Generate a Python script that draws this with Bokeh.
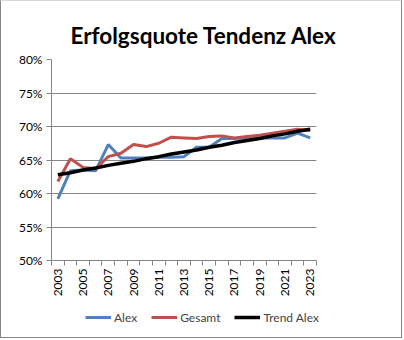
from bokeh.plotting import figure
from bokeh.models import (FixedTicker, PrintfTickFormatter, Legend, LegendItem, Range1d)
from bokeh.embed import file_html
from bokeh.resources import INLINE
import math

years = list(range(2003, 2024))
alex = [59.2, 63.4, 63.5, 63.4, 67.3, 65.3, 65.3, 65.3, 65.4, 65.4, 65.5,
        66.9, 66.9, 68.2, 68.2, 68.3, 68.3, 68.3, 68.3, 69.0, 68.3]
gesamt = [61.8, 65.2, 63.9, 63.7, 65.5, 66.0, 67.3, 67.0, 67.5, 68.4, 68.3,
          68.2, 68.5, 68.6, 68.3, 68.5, 68.7, 69.0, 69.3, 69.6, 69.4]
trend = [62.8, 63.1, 63.5, 63.8, 64.2, 64.5, 64.8, 65.2, 65.5, 65.9, 66.2,
         66.5, 66.9, 67.2, 67.6, 67.9, 68.2, 68.6, 68.9, 69.3, 69.6]
y_ticks = [50, 55, 60, 65, 70, 75, 80]
label_years = [2003, 2005, 2007, 2009, 2011, 2013, 2015, 2017, 2019, 2021, 2023]

FONT = "Lato"
GRID = "#868686"
BLUE, RED, BLACK = "#4F81BD", "#C0504D", "black"
EDGE = "1px solid #868686"

p = figure(width=402, height=299, output_backend="svg", toolbar_location=None,
           x_range=Range1d(2002.5, 2023.5), y_range=Range1d(50, 80),
           min_border_left=50, min_border_right=87, min_border_top=58,
           min_border_bottom=40)
p.styles = {"border-left": EDGE, "border-right": EDGE,
            "border-top": "1px solid #d9d9d9"}
p.outline_line_color = None
p.background_fill_color = "white"
p.border_fill_color = "white"

p.title.text = "Erfolgsquote Tendenz Alex"
p.title.text_font = FONT
p.title.text_font_size = "22.5px"
p.title.text_font_style = "bold"
p.title.align = "left"
p.title.text_color = "black"
p.title.standoff = 21
p.title.offset = 19

# x axis
minor = [y - 0.5 for y in years] + [years[-1] + 0.5]
p.xaxis.ticker = FixedTicker(ticks=label_years, minor_ticks=minor)
p.xaxis.major_label_orientation = math.pi / 2
p.xaxis.major_tick_line_color = None
p.xaxis.major_tick_out = 5
p.xaxis.major_tick_in = 0
p.xaxis.minor_tick_line_color = GRID
p.xaxis.minor_tick_out = 5
p.xaxis.minor_tick_in = 0
p.xaxis.axis_line_color = GRID
p.xaxis.major_label_text_font = FONT
p.xaxis.major_label_text_font_size = "12px"
p.xaxis.major_label_text_color = "black"
p.xaxis.major_label_standoff = 3
p.xgrid.grid_line_color = None

# y axis
p.yaxis.ticker = FixedTicker(ticks=y_ticks)
p.yaxis.formatter = PrintfTickFormatter(format="%d%%")
p.yaxis.major_tick_line_color = GRID
p.yaxis.major_tick_out = 5
p.yaxis.major_tick_in = 0
p.yaxis.minor_tick_line_color = None
p.yaxis.axis_line_color = GRID
p.yaxis.major_label_text_font = FONT
p.yaxis.major_label_text_font_size = "12px"
p.yaxis.major_label_text_color = "black"
p.yaxis.major_label_standoff = 4
p.ygrid.grid_line_color = GRID
p.ygrid.grid_line_width = 1

p.line(years, alex, line_color=BLUE, line_width=3)
p.line(years, gesamt, line_color=RED, line_width=3)
p.line(years, trend, line_color=BLACK, line_width=3.5)

# legend strip below the chart (same series, drawn outside its visible range)
lg = figure(width=402, height=39, output_backend="svg", toolbar_location=None,
            x_range=Range1d(0, 1), y_range=Range1d(0, 1),
            x_axis_location=None, y_axis_location=None,
            min_border_left=0, min_border_right=0, min_border_top=0,
            min_border_bottom=0)
lg.styles = {"border-left": EDGE, "border-right": EDGE, "border-bottom": EDGE}
lg.grid.grid_line_color = None
lg.outline_line_color = None
lg.background_fill_color = "white"
lg.border_fill_color = "white"
l1 = lg.line(years, alex, line_color=BLUE, line_width=3)
l2 = lg.line(years, gesamt, line_color=RED, line_width=3)
l3 = lg.line(years, trend, line_color=BLACK, line_width=3.5)

legend = Legend(items=[LegendItem(label="Alex", renderers=[l1]),
                       LegendItem(label="Gesamt", renderers=[l2]),
                       LegendItem(label="Trend Alex", renderers=[l3])],
                orientation="horizontal", location=(84, 11),
                label_text_font=FONT, label_text_font_size="12px",
                glyph_width=26, glyph_height=20, label_height=20,
                label_standoff=3, spacing=14,
                border_line_color=None, background_fill_alpha=0,
                padding=0, margin=0)
lg.add_layout(legend, "center")

open("out.html", "w").write(file_html([p, lg], INLINE))
